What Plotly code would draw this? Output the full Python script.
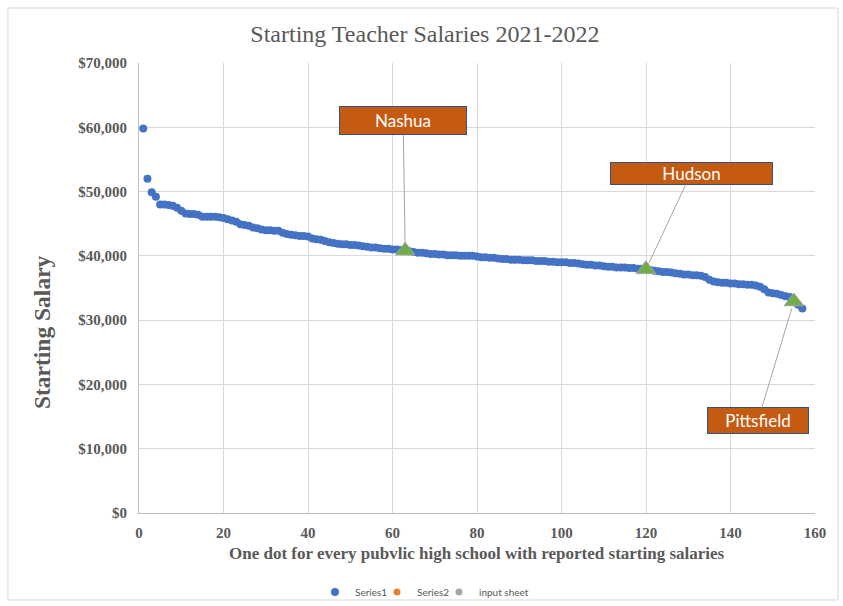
import plotly.graph_objects as go

# ---- data ----
school_index = list(range(1, 158))
salaries = [
    59800, 52000, 49900, 49200, 48000, 48000, 47900, 47800, 47500, 47000,
    46600, 46500, 46500, 46400, 46100, 46100, 46100, 46100, 46000, 45900,
    45700, 45500, 45300, 44900, 44800, 44700, 44400, 44300, 44100, 44000,
    44000, 43900, 43900, 43600, 43400, 43300, 43200, 43100, 43100, 43000,
    42700, 42600, 42500, 42300, 42100, 42000, 41900, 41800, 41800, 41700,
    41700, 41600, 41500, 41400, 41300, 41300, 41200, 41100, 41100, 41000,
    41000, 40900, 40800, 40700, 40600, 40500, 40500, 40400, 40300, 40300,
    40200, 40200, 40100, 40100, 40100, 40000, 40000, 40000, 40000, 39900,
    39800, 39800, 39700, 39700, 39600, 39500, 39500, 39400, 39400, 39400,
    39300, 39300, 39300, 39200, 39200, 39200, 39100, 39100, 39000, 39000,
    39000, 38900, 38900, 38800, 38700, 38600, 38600, 38500, 38500, 38400,
    38300, 38300, 38200, 38200, 38200, 38100, 38100, 38000, 38000, 37900,
    37800, 37700, 37600, 37500, 37500, 37400, 37300, 37200, 37100, 37100,
    37000, 37000, 36900, 36700, 36300, 36000, 35900, 35800, 35800, 35700,
    35700, 35600, 35600, 35500, 35500, 35400, 35200, 34800, 34300, 34200,
    34100, 33900, 33700, 33600, 32900, 32400, 31800,
]
highlight_names = ["Nashua", "Hudson", "Pittsfield"]
highlight_x = [63, 120, 155]
highlight_y = [40800, 37900, 32900]
label_offsets = [(-2, -130), (45, -96), (-36, 119)]
label_sizes = [(126, 27), (161, 21), (100, 25)]

x_ticks = [0, 20, 40, 60, 80, 100, 120, 140, 160]
y_ticks = [0, 10000, 20000, 30000, 40000, 50000, 60000, 70000]

GREY = "#595959"
SERIF = "Liberation Serif"

fig = go.Figure()
fig.add_trace(go.Scatter(
    x=school_index, y=salaries, mode="markers", name="Series1", legend="legend",
    marker=dict(color="#4472C4", size=8, line=dict(width=0)),
))
fig.add_trace(go.Scatter(
    x=[None], y=[None], mode="markers", name="Series2", legend="legend2",
    marker=dict(color="#ED7D31", size=7),
))
fig.add_trace(go.Scatter(
    x=[None], y=[None], mode="markers", name="input sheet", legend="legend3",
    marker=dict(color="#A5A5A5", size=7),
))
fig.add_trace(go.Scatter(
    x=highlight_x, y=highlight_y, mode="markers", showlegend=False,
    marker=dict(symbol="triangle-up", color="#70AD47", size=17,
                line=dict(color="#A5A5A5", width=1)),
))

annotations = []
for name, hx, hy, (ax, ay), (w, h) in zip(highlight_names, highlight_x, highlight_y,
                                          label_offsets, label_sizes):
    annotations.append(dict(
        x=hx, y=hy, xref="x", yref="y", ax=ax, ay=ay,
        text=name, showarrow=True, arrowhead=0, arrowwidth=1,
        arrowcolor="#A5A5A5", standoff=7,
        bgcolor="#C55A11", bordercolor="#2F528F", borderwidth=1, borderpad=0,
        width=w, height=h, align="center", valign="middle",
        font=dict(family="Lato", size=17, color="white"),
    ))

annotations.append(dict(
    x=-0.1435, y=0.402, xref="paper", yref="paper", showarrow=False,
    xanchor="center", yanchor="middle",
    text="Starting Salary", textangle=-90,
    font=dict(family=SERIF, size=23.5, color=GREY, weight="bold"),
))
annotations.append(dict(
    x=0.5, y=-0.089, xref="paper", yref="paper", showarrow=False,
    xanchor="center", yanchor="middle",
    text="One dot for every pubvlic high school with reported starting salaries",
    font=dict(family=SERIF, size=17, color=GREY, weight="bold"),
))

legend_common = dict(orientation="h", y=-0.1756, xanchor="left", yanchor="middle",
                     font=dict(family="Lato", size=10, color=GREY), itemwidth=30,
                     bgcolor="rgba(0,0,0,0)")

fig.update_layout(
    width=843, height=606,
    margin=dict(l=139, r=28, t=63, b=93, autoexpand=False),
    paper_bgcolor="white", plot_bgcolor="white",
    title=dict(text="Starting Teacher Salaries 2021-2022", x=0.504, y=0.945,
               xref="container", yref="container", xanchor="center", yanchor="middle",
               font=dict(family=SERIF, size=24, color=GREY)),
    xaxis=dict(range=[0, 160], tickvals=x_ticks, showgrid=True, gridcolor="#D9D9D9",
               gridwidth=1, zeroline=False, showline=True, linecolor="#BFBFBF",
               ticks="", ticklabelstandoff=6,
               tickfont=dict(family=SERIF, size=15, color=GREY, weight="bold")),
    yaxis=dict(range=[0, 70000], tickvals=y_ticks, tickformat="$,.0f", showgrid=True,
               gridcolor="#D9D9D9", gridwidth=1, zeroline=False, showline=True,
               linecolor="#BFBFBF", ticks="", ticklabelstandoff=8,
               tickfont=dict(family=SERIF, size=15, color=GREY, weight="bold")),
    legend=dict(legend_common, x=0.2604),
    legend2=dict(legend_common, x=0.3521),
    legend3=dict(legend_common, x=0.4438),
    annotations=annotations,
    shapes=[dict(type="rect", xref="paper", yref="paper",
                 x0=-0.1938, x1=1.034, y0=-0.1933, y1=1.1222,
                 line=dict(color="#D9D9D9", width=1), fillcolor="rgba(0,0,0,0)",
                 layer="below")],
    showlegend=True,
)

fig.write_html("out.html", config={"displayModeBar": False},
               post_script="document.body.style.margin='0';")
